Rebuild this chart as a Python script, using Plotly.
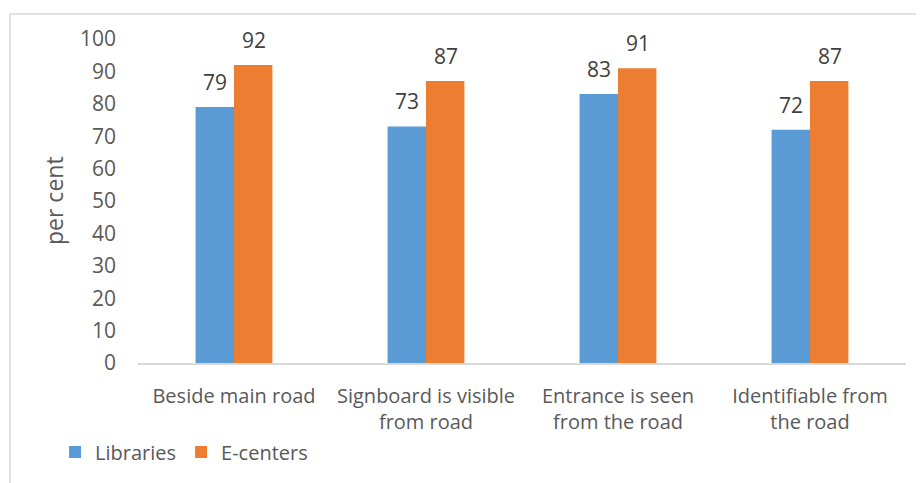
import plotly.graph_objects as go

categories = ["Beside main road", "Signboard is visible<br>from road", "Entrance is seen<br>from the road", "Identifiable from<br>the road"]
libraries = [79, 73, 83, 72]
ecenters = [92, 87, 91, 87]
y_ticks = [0, 10, 20, 30, 40, 50, 60, 70, 80, 90, 100]

FONT = "Open Sans"
L, R, T, B = 130, 26, 31, 128
PW, PH = 924 - L - R, 483 - T - B

fig = go.Figure()
fig.add_trace(go.Bar(name="Libraries", x=categories, y=libraries, marker_color="#5B9BD5",
                     marker_line_width=0))
fig.add_trace(go.Bar(name="E-centers", x=categories, y=ecenters, marker_color="#ED7D31",
                     marker_line_width=0))

annotations = []
for series, shift in ((libraries, -19.5), (ecenters, 19.5)):
    for cat, v in zip(categories, series):
        annotations.append(dict(x=cat, y=v, xref="x", yref="y", text=str(v), showarrow=False,
                                xshift=shift, yshift=25, yanchor="middle",
                                font=dict(size=21, color="#404040", family=FONT)))
annotations.append(dict(x=(46 - L) / PW, y=0.5, xref="paper", yref="paper", text="per cent",
                        textangle=-90, showarrow=False, xanchor="center", yanchor="middle",
                        font=dict(size=23, color="#595959", family=FONT)))

fig.update_layout(
    width=924, height=483,
    margin=dict(l=L, r=R, t=T, b=B),
    paper_bgcolor="white", plot_bgcolor="white",
    barmode="group", bargap=0.6, bargroupgap=0,
    font=dict(family=FONT, color="#595959", size=20),
    showlegend=True,
    legend=dict(orientation="h", x=-0.108, xanchor="left", y=(355 - 444) / PH, yanchor="middle",
                font=dict(size=20, color="#595959")),
    xaxis=dict(showline=True, linecolor="#D9D9D9", linewidth=1.5, ticks="",
               ticklabelstandoff=14,
               tickfont=dict(size=20, color="#595959"), showgrid=False),
    yaxis=dict(range=[0, 100], tickvals=y_ticks, showgrid=False, zeroline=False,
               showline=False, ticks="", ticklabelstandoff=21,
               tickfont=dict(size=21, color="#595959")),
    annotations=annotations,
    shapes=[
        dict(type="line", xref="paper", yref="paper", x0=(2 - L) / PW, x1=(940 - L) / PW,
             y0=(355 - 6) / PH, y1=(355 - 6) / PH, line=dict(color="#D9D9D9", width=1.5)),
        dict(type="line", xref="paper", yref="paper", x0=(2 - L) / PW, x1=(2 - L) / PW,
             y0=(355 - 6) / PH, y1=(355 - 500) / PH, line=dict(color="#D9D9D9", width=1.5)),
    ],
)
fig.write_html("out.html")
